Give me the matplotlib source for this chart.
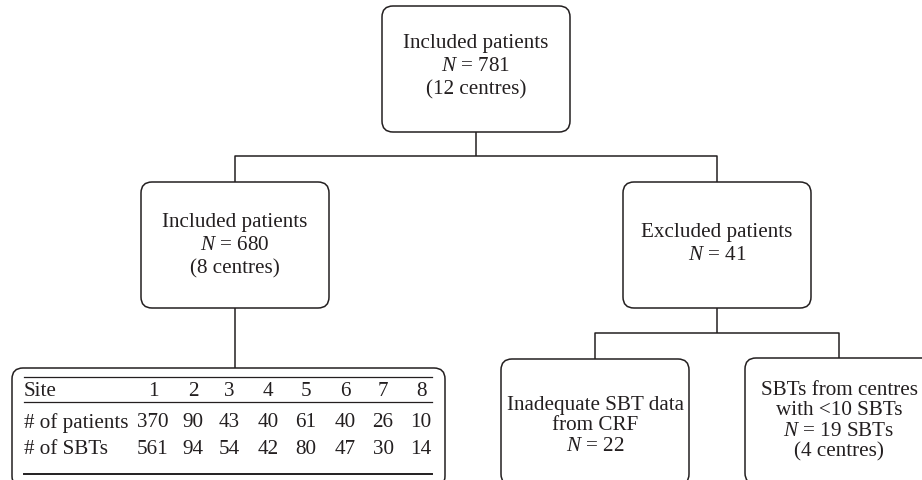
import matplotlib.pyplot as plt
from matplotlib.patches import FancyBboxPatch

plt.rcParams["font.family"] = ["Liberation Serif", "DejaVu Serif"]
plt.rcParams["mathtext.fontset"] = "custom"
plt.rcParams["mathtext.rm"] = "Liberation Serif"
plt.rcParams["mathtext.it"] = "Liberation Serif:italic"

# --- flowchart content ---
top_text = "Included patients\n$N$ = 781\n(12 centres)"
incl_text = "Included patients\n$N$ = 680\n(8 centres)"
excl_text = "Excluded patients\n$N$ = 41"
inadeq_text = "Inadequate SBT data\nfrom CRF\n$N$ = 22"
small_text = "SBTs from centres\nwith <10 SBTs\n$N$ = 19 SBTs\n(4 centres)"

# --- table content ---
sites = ["1", "2", "3", "4", "5", "6", "7", "8"]
n_patients = [370, 90, 43, 40, 61, 40, 26, 10]
n_sbts = [561, 94, 54, 42, 80, 47, 30, 14]
row_labels = ["Site", "# of patients", "# of SBTs"]

INK = "#231f20"
FS = 15.2

fig = plt.figure(figsize=(9.22, 4.81), dpi=100)
ax = fig.add_axes([0, 0, 1, 1])
ax.set_xlim(0, 922)
ax.set_ylim(481, 0)
ax.axis("off")


def box(x0, y0, w, h, text=None, ty=None, ls=1.3):
    p = FancyBboxPatch((x0, y0), w, h, boxstyle="round,pad=0,rounding_size=11",
                       fc="white", ec=INK, lw=1.1, zorder=2)
    ax.add_patch(p)
    if text is not None:
        ax.text(x0 + w / 2, ty if ty else y0 + h / 2, text, ha="center",
                va="center", fontsize=FS, color=INK, linespacing=ls,
                zorder=3)


def line(xs, ys):
    ax.plot(xs, ys, color=INK, lw=1.1, zorder=1, solid_capstyle="butt")


# boxes
W, H = 188, 126
box(382, 7, W, H, top_text, 67)
box(141, 183, W, H, incl_text, 246)
box(623, 183, W, H, excl_text, 244)
box(501, 360, W, H, inadeq_text, 426, ls=1.12)
box(745, 359, W, H, small_text, 421, ls=1.1)
box(12, 369, 433, 119)

# connectors
line([476, 476], [133, 157])
line([235, 235, 717, 717], [183, 157, 157, 183])
line([235, 235], [309, 369])
line([717, 717], [309, 334])
line([595, 595, 839, 839], [360, 334, 334, 359])

# table
col_x = [153, 193, 229, 268, 306, 345, 383, 421]
row_y = [392, 423, 450]
ax.plot([24, 432], [378, 378], color=INK, lw=0.9, zorder=3)
ax.plot([24, 432], [403, 403], color=INK, lw=0.9, zorder=3)
ax.plot([24, 432], [475, 475], color=INK, lw=1.4, zorder=3)
for lbl, y in zip(row_labels, row_y):
    ax.text(24, y, lbl, ha="left", va="center", fontsize=FS, color=INK, zorder=3)
for vals, y in zip([sites, n_patients, n_sbts], row_y):
    for v, x in zip(vals, col_x):
        ax.text(x, y, str(v), ha="center", va="center", fontsize=FS,
                color=INK, zorder=3)

fig.savefig("out.png", dpi=100)
